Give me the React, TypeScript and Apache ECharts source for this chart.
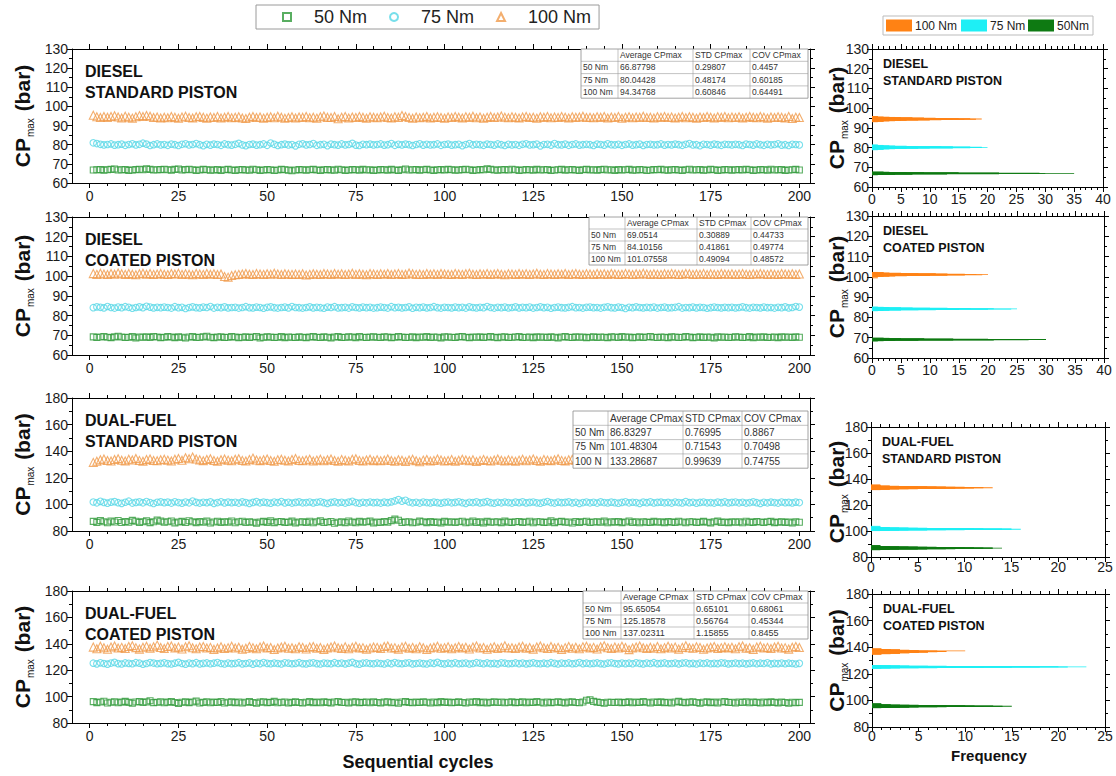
import React, { useEffect, useRef } from 'react';
import * as echarts from 'echarts';

const FONT = 'Arial, "Liberation Sans", Helvetica, sans-serif';

// Sequential cycle numbers (x values of every scatter point)
const cycles: number[] = [];
for (let i = 1; i <= 200; i++) cycles.push(i);

const xTicks = [0, 25, 50, 75, 100, 125, 150, 175, 200];
const loads = ['50 Nm', '75 Nm', '100 Nm'];

// ---------- DIESEL, STANDARD PISTON ----------
const dStd50 = [
  66.8,66.9,67.0,66.7,66.9,67.1,67.3,66.8,66.9,67.0,66.6,66.8,67.0,67.2,66.9,67.4,67.1,66.8,66.9,67.0,
  67.2,66.9,66.7,67.1,67.3,66.8,67.0,67.2,66.9,66.6,66.8,67.1,66.9,66.7,66.8,67.0,66.5,66.9,67.1,66.8,
  66.6,66.9,67.0,66.8,66.7,67.2,66.9,66.6,66.8,67.0,66.9,66.5,66.8,67.1,66.9,66.7,66.4,66.8,67.0,66.9,
  66.7,66.9,67.1,66.8,66.6,66.9,67.0,66.8,66.7,67.2,66.9,66.6,66.8,67.0,66.9,66.7,67.1,66.8,66.9,66.6,
  66.8,67.0,66.9,66.7,67.1,66.8,66.6,66.9,67.3,66.8,66.9,67.0,66.7,66.9,67.1,66.8,66.6,66.9,67.0,66.8,
  67.1,66.9,66.7,66.8,67.0,67.2,66.9,66.6,66.8,67.0,66.9,67.4,67.1,66.8,66.7,66.9,67.0,66.8,67.2,66.9,
  66.6,66.8,67.0,66.9,66.7,67.1,66.8,66.9,67.0,66.5,66.8,66.9,67.1,66.7,66.9,67.0,66.8,66.6,66.9,67.1,
  66.8,66.9,66.7,67.0,67.2,66.8,66.9,66.6,67.0,66.8,66.9,67.1,66.7,66.8,67.0,66.9,66.5,66.8,67.0,66.9,
  67.1,66.8,66.7,66.9,67.0,66.8,66.6,66.9,67.2,66.8,66.9,67.0,66.7,66.8,67.1,66.9,66.6,66.8,67.0,66.9,
  66.7,66.9,67.0,66.8,67.1,66.9,66.6,66.8,67.0,66.9,66.7,67.2,66.8,66.9,67.0,66.6,66.8,66.9,67.1,66.8,
];
const dStd75 = [
  81.0,80.6,80.2,79.9,80.1,80.4,79.8,80.0,80.3,79.7,80.1,80.5,79.9,80.2,80.8,80.3,79.6,80.0,80.4,79.9,
  80.1,79.7,80.3,80.0,79.6,80.2,80.5,79.9,80.1,80.6,80.0,79.5,80.2,79.8,80.3,80.1,79.7,80.4,80.0,79.8,
  80.2,80.7,79.9,79.5,80.1,80.3,79.8,80.0,80.4,79.7,80.9,80.2,79.6,80.0,80.3,79.9,80.1,79.4,80.2,80.5,
  79.9,80.1,80.6,79.7,80.0,80.2,79.5,80.3,80.0,79.8,80.4,79.9,80.1,80.7,79.8,79.6,80.2,80.0,80.3,79.9,
  80.1,80.4,79.8,80.0,80.6,79.7,80.2,79.9,80.3,80.0,79.6,80.1,80.5,79.8,80.2,79.9,80.0,80.4,79.7,80.1,
  80.3,79.8,80.0,80.2,79.5,80.1,80.6,79.9,80.2,80.0,79.7,80.3,80.1,79.8,80.4,80.0,79.6,80.2,79.9,80.1,
  79.7,80.2,80.5,79.9,80.0,80.3,79.4,80.1,80.2,79.8,80.6,80.0,79.9,80.3,79.7,80.1,80.4,79.8,80.0,80.2,
  80.0,79.6,80.3,80.1,79.8,80.5,80.0,79.9,80.2,79.7,80.1,80.4,79.8,80.0,80.3,79.6,80.1,80.2,79.9,80.0,
  80.4,79.8,80.1,79.9,80.3,80.0,79.7,80.2,80.6,79.9,80.0,79.5,80.2,80.1,79.8,80.3,80.0,79.7,80.2,80.1,
  79.9,80.2,80.0,79.6,80.3,80.1,79.8,80.4,80.0,79.7,80.2,79.9,80.1,80.5,79.8,80.0,79.6,80.2,80.1,79.9,
];
const dStd100 = [
  95.4,94.6,94.2,94.8,94.3,94.7,95.1,94.5,94.0,94.9,94.4,93.9,94.6,95.2,94.8,95.3,94.9,94.2,94.5,94.0,
  94.4,94.1,94.7,94.3,93.8,94.5,94.9,94.2,94.0,94.6,94.8,94.3,93.9,94.5,94.2,94.7,94.0,94.4,94.8,94.1,
  94.3,94.6,94.0,93.7,94.4,94.8,94.2,94.5,93.9,94.3,94.6,94.1,94.9,94.4,93.8,94.2,94.6,94.0,94.5,94.3,
  94.7,94.1,94.4,93.9,94.6,95.0,94.3,94.2,94.8,93.6,94.4,94.7,94.0,94.5,94.2,94.8,94.3,93.9,94.6,94.4,
  94.1,94.5,94.9,94.2,94.0,94.6,94.3,95.3,94.7,94.2,93.8,94.5,94.1,94.4,94.8,94.0,94.3,94.6,94.2,93.9,
  94.5,94.2,94.8,94.4,94.0,94.6,94.3,94.9,94.1,94.5,93.8,94.3,94.7,94.2,94.5,95.0,94.4,94.1,94.6,94.3,
  94.0,94.5,94.8,94.2,94.4,93.9,94.6,94.3,94.7,94.1,94.5,94.2,94.8,94.4,94.0,94.6,94.3,94.5,94.9,94.2,
  94.4,94.1,94.6,94.3,94.8,94.0,94.5,94.2,94.7,93.8,94.4,94.6,94.1,94.5,94.3,94.9,94.2,94.4,94.0,94.6,
  94.3,94.7,94.2,94.5,94.0,94.4,94.8,94.1,94.6,94.3,93.9,94.5,94.2,94.7,94.4,94.0,94.6,94.3,94.8,94.1,
  94.5,94.2,94.6,94.0,94.4,94.8,94.3,94.1,94.7,94.4,93.9,94.5,94.2,94.6,94.3,94.0,94.7,93.7,94.4,94.2,
];

// ---------- DIESEL, COATED PISTON ----------
const dCoat50 = [
  69.2,68.9,69.1,69.4,69.0,68.8,69.2,69.5,69.1,68.9,69.0,69.3,68.7,69.1,69.0,69.2,68.9,69.4,69.1,68.8,
  69.0,69.3,69.1,68.8,69.2,69.0,68.6,69.1,69.3,68.9,69.0,69.2,69.5,69.0,68.8,69.1,69.2,68.9,69.0,69.3,
  69.1,68.8,69.0,69.2,68.9,69.1,69.4,68.7,69.0,69.2,69.1,68.9,69.0,69.3,68.8,69.1,69.0,68.9,69.2,69.0,
  68.8,69.1,69.3,69.0,68.9,69.2,69.0,68.7,69.1,69.3,68.9,69.0,69.2,69.1,68.8,69.4,69.0,68.9,69.1,69.2,
  69.0,68.9,69.2,69.1,68.8,69.0,69.3,69.1,68.9,69.0,69.2,68.8,69.1,69.0,69.3,68.9,69.1,69.0,68.7,69.2,
  69.1,69.0,68.9,69.2,69.4,69.0,68.8,69.1,69.0,69.2,68.9,69.1,69.3,69.0,68.8,69.1,69.2,68.9,69.0,69.1,
  69.3,68.9,69.0,69.1,68.8,69.2,69.0,69.1,68.9,69.2,69.0,68.7,69.1,69.3,69.0,68.9,69.2,69.0,69.1,68.8,
  69.0,69.2,68.9,69.1,69.0,68.8,69.2,69.1,68.9,69.3,69.0,69.1,68.8,69.0,69.2,68.9,69.1,69.4,69.0,68.9,
  69.1,69.0,68.8,69.2,69.1,68.9,69.0,69.3,69.1,68.8,69.0,69.2,68.9,69.1,69.0,68.7,69.2,69.0,69.1,68.9,
  69.0,69.2,69.1,68.9,69.0,69.3,68.8,69.1,69.0,69.2,68.9,69.0,69.1,68.8,69.2,69.0,69.1,68.9,69.2,69.0,
];
const dCoat75 = [
  84.0,84.4,84.2,83.9,84.6,84.1,83.8,84.3,84.0,84.5,84.2,83.7,84.1,84.4,84.0,84.7,84.3,83.9,84.2,84.0,
  84.3,84.1,83.8,84.5,84.0,84.2,83.6,84.1,84.4,84.0,83.9,84.3,84.1,84.6,83.8,84.2,84.0,84.4,83.9,84.1,
  84.2,83.8,84.1,84.5,84.0,83.9,84.3,84.1,83.7,84.2,84.4,84.0,83.8,84.1,84.3,83.9,84.6,84.1,84.0,83.8,
  84.1,84.4,83.9,84.2,84.0,83.7,84.3,84.1,84.5,83.9,84.0,84.2,83.8,84.4,84.1,83.9,84.3,84.0,84.2,83.8,
  84.0,84.3,84.1,83.8,84.5,84.0,84.2,83.9,84.1,84.4,83.7,84.2,84.0,84.3,83.9,84.1,84.5,84.0,83.8,84.2,
  84.1,83.9,84.3,84.0,84.2,83.8,84.4,84.1,83.9,84.2,84.0,84.6,84.1,83.8,84.2,84.0,84.3,83.9,84.1,84.4,
  83.9,84.2,84.0,84.3,83.8,84.1,84.4,84.0,84.2,83.7,84.1,84.3,84.0,83.9,84.2,84.5,84.0,84.1,83.8,84.2,
  84.3,84.0,84.1,83.8,84.2,84.4,84.0,83.9,84.3,84.1,83.6,84.2,84.0,84.4,84.1,83.9,84.2,84.0,84.3,83.8,
  84.1,84.3,83.9,84.0,84.2,84.5,83.8,84.1,84.0,84.3,83.9,84.2,84.1,83.7,84.0,84.3,84.1,83.9,84.2,84.0,
  84.2,83.9,84.1,84.4,84.0,83.8,84.2,84.1,83.9,84.3,84.0,84.1,83.8,84.2,84.0,84.4,83.9,84.1,84.6,84.3,
];
const dCoat100 = [
  101.3,100.9,101.5,101.1,100.8,101.4,101.0,101.6,101.2,100.9,101.3,101.0,100.7,101.2,101.5,101.0,101.3,100.9,101.1,101.4,
  101.0,100.8,101.3,101.1,101.5,100.9,101.2,101.0,100.7,101.3,101.1,100.9,101.4,101.0,101.2,100.8,101.1,99.8,99.5,100.3,
  100.7,100.9,101.1,101.4,101.0,100.8,101.3,101.1,100.9,101.2,101.0,101.5,101.1,100.8,101.2,101.0,100.9,101.1,100.9,101.2,
  100.6,100.9,101.2,101.0,100.8,101.3,101.1,100.9,101.4,101.0,101.2,100.8,101.1,101.5,100.9,101.2,101.0,100.7,101.3,101.1,
  100.9,101.2,101.0,101.4,100.8,101.1,101.3,100.9,101.0,101.6,101.2,100.9,101.1,100.8,101.3,101.0,101.2,100.9,101.4,101.1,
  101.0,100.8,101.3,101.1,100.9,101.2,101.5,101.0,100.8,101.2,101.0,101.3,100.9,101.1,101.4,101.0,100.7,101.2,101.1,100.9,
  101.3,101.0,101.2,100.9,101.1,101.5,101.0,100.8,101.3,101.1,100.9,101.2,101.0,101.4,100.8,101.1,101.3,101.0,100.9,101.2,
  101.1,100.9,101.3,101.0,101.2,100.8,101.4,101.1,100.9,101.0,101.3,101.1,100.8,101.2,101.0,101.5,101.1,100.9,101.2,101.0,
  100.9,101.2,101.0,101.3,101.1,100.8,101.0,101.4,101.2,100.9,101.1,101.0,101.3,100.8,101.2,101.0,100.9,101.3,101.1,101.0,
  101.2,100.9,101.1,101.3,101.0,100.8,101.2,101.0,101.4,101.1,100.9,101.2,101.0,100.8,101.3,101.1,101.0,101.2,100.9,101.1,
];

// ---------- DUAL-FUEL, STANDARD PISTON ----------
const dfStd50 = [
  87.2,86.5,87.8,86.9,86.2,87.4,86.8,87.9,86.4,87.1,86.7,88.0,87.3,86.5,86.9,87.6,86.3,87.0,88.2,87.4,
  86.6,86.9,87.5,86.1,86.8,87.2,86.4,87.7,86.9,86.3,87.1,86.6,87.4,86.0,86.8,87.3,86.5,87.0,86.7,87.5,
  86.2,86.9,87.3,86.4,87.0,86.6,85.9,86.8,87.2,86.5,87.6,86.3,86.9,87.1,86.4,86.7,87.4,86.1,86.8,87.0,
  86.5,87.3,86.2,86.9,87.6,86.4,86.8,87.1,85.8,86.6,87.0,86.3,87.5,86.7,86.2,87.2,86.6,86.9,87.4,86.1,
  86.8,86.4,87.1,86.7,87.8,88.9,88.1,86.5,86.8,87.0,86.2,86.6,87.4,86.9,86.3,87.1,86.5,86.8,86.1,87.2,
  86.6,87.0,86.4,86.9,87.3,86.2,86.7,87.5,86.5,86.9,86.1,87.2,86.6,86.8,87.0,86.3,87.4,86.7,86.4,86.9,
  87.1,86.5,86.8,87.3,86.2,86.9,87.0,86.4,86.7,87.6,86.3,86.9,87.2,86.6,86.8,86.0,87.1,86.5,86.9,87.3,
  86.4,86.8,87.0,86.6,87.4,86.2,86.9,86.7,87.1,86.3,86.8,87.5,86.5,86.9,86.2,87.0,86.7,86.4,87.2,86.6,
  86.9,86.3,87.1,86.7,86.5,87.3,86.8,86.2,86.9,87.0,86.4,86.7,87.2,86.6,86.1,86.9,87.4,86.5,86.8,86.3,
  87.0,86.6,86.9,86.2,87.3,86.7,86.5,87.1,86.8,86.4,86.9,87.2,86.3,86.7,87.0,86.5,86.8,86.1,86.9,86.6,
];
const dfStd75 = [
  101.8,101.2,102.3,101.5,100.9,101.7,102.1,101.3,100.8,101.6,102.4,101.0,101.5,101.9,101.2,102.2,101.4,100.7,101.6,101.9,
  101.3,101.7,101.0,102.0,101.4,100.9,101.8,101.2,102.5,101.5,101.0,101.6,101.3,101.9,100.8,101.4,102.0,101.1,101.7,101.3,
  101.6,101.0,101.9,101.4,100.8,101.5,102.1,101.2,101.7,101.3,100.9,101.8,101.4,102.2,101.1,101.6,101.0,101.5,101.9,101.2,
  101.4,101.8,101.1,101.6,102.0,101.3,100.8,101.5,101.9,101.2,101.6,101.0,101.7,102.3,101.4,100.9,101.6,101.2,101.8,101.3,
  101.5,101.0,101.7,101.3,101.9,102.6,103.6,102.4,103.1,101.8,101.2,101.6,101.0,101.8,101.4,101.1,101.7,101.3,100.9,101.5,
  101.8,101.2,101.5,102.0,101.3,100.8,101.6,101.4,101.9,101.1,101.5,102.1,101.3,100.9,101.6,101.2,101.8,101.4,101.0,101.7,
  101.3,101.9,101.1,101.5,101.8,101.2,100.9,101.6,102.2,101.4,101.0,101.7,101.3,101.5,101.9,101.1,101.6,100.8,101.4,101.8,
  101.2,101.6,101.0,101.9,101.4,101.1,101.7,101.3,100.9,101.5,102.0,101.2,101.6,101.4,100.8,101.7,101.3,101.9,101.1,101.5,
  101.7,101.2,101.5,101.0,101.8,101.4,101.1,102.1,101.3,101.6,100.9,101.5,101.8,101.2,101.4,101.0,101.7,101.3,101.9,101.1,
  101.5,101.8,101.2,101.6,101.0,101.4,101.9,101.3,100.8,101.6,101.2,101.7,101.4,101.0,101.8,101.3,101.5,101.1,101.7,101.4,
];
const dfStd100 = [
  131.6,132.4,133.5,134.1,133.0,132.6,133.8,134.4,133.2,132.7,133.9,133.4,134.6,133.1,132.5,133.7,134.2,133.0,132.8,133.6,
  134.0,133.3,132.6,133.9,134.5,133.2,135.1,134.3,135.6,134.1,133.5,132.9,133.8,134.4,133.0,132.5,133.6,134.2,133.3,132.8,
  133.9,134.3,133.1,132.6,133.7,134.8,133.4,132.9,133.5,134.1,133.0,132.4,133.6,134.0,133.2,132.7,133.8,134.5,133.1,132.8,
  133.4,134.0,132.6,133.3,133.9,132.8,133.5,134.2,133.0,132.5,133.7,133.2,132.7,133.9,134.3,133.1,132.6,133.4,134.0,132.9,
  133.5,132.8,133.3,134.1,133.0,132.4,133.6,133.2,132.3,133.4,134.0,132.9,132.1,133.3,133.8,132.7,133.1,134.2,133.4,132.6,
  133.0,133.7,132.5,133.2,134.0,133.4,132.8,133.5,132.2,133.1,133.8,133.0,132.6,133.4,134.1,133.2,132.7,133.6,133.1,132.4,
  133.3,133.9,132.8,133.4,134.2,133.0,132.5,133.7,133.3,132.9,133.6,134.3,133.1,132.7,133.5,134.0,133.2,132.6,133.8,133.4,
  132.9,133.5,134.1,133.0,132.6,133.8,133.3,132.8,134.0,133.4,132.7,133.6,133.1,134.2,133.5,132.9,133.3,133.9,132.6,133.4,
  133.7,133.1,132.7,133.5,134.0,133.2,132.8,133.6,133.0,134.1,133.4,132.6,133.3,133.9,133.1,132.7,133.5,134.2,133.0,133.4,
  132.8,133.6,133.2,134.0,133.3,132.7,133.8,133.1,132.9,133.5,134.1,133.2,132.6,133.4,133.9,133.0,132.8,133.6,133.3,132.9,
];

// ---------- DUAL-FUEL, COATED PISTON ----------
const dfCoat50 = [
  96.2,95.4,95.9,96.5,95.1,95.7,96.1,95.3,95.8,96.4,95.6,95.0,95.9,96.3,95.5,96.0,96.8,95.4,95.7,96.1,
  95.3,95.8,96.2,95.5,94.9,95.7,96.0,95.4,95.9,96.6,95.2,95.6,96.1,95.3,95.8,95.5,96.3,95.1,95.7,96.0,
  95.4,95.9,95.2,95.7,96.2,95.5,95.0,95.8,96.1,95.4,95.6,96.4,95.3,95.7,95.9,95.2,95.6,96.0,95.5,95.1,
  95.7,96.2,95.4,95.8,95.3,96.0,95.6,95.1,95.9,96.3,95.5,95.7,95.2,95.8,96.1,95.4,95.6,95.9,95.3,96.0,
  95.5,95.2,95.8,96.1,95.4,95.7,95.0,95.9,96.2,95.6,95.3,95.8,95.5,96.0,95.7,95.2,95.9,95.4,96.3,95.6,
  95.8,95.3,95.6,96.0,95.5,95.1,95.9,95.7,96.2,95.4,95.8,95.2,95.6,96.1,95.5,95.9,95.3,95.7,96.0,95.4,
  95.6,96.0,95.3,95.8,95.5,96.2,95.7,95.1,95.9,95.4,95.7,96.1,95.6,95.2,95.8,96.0,95.5,95.3,95.9,97.2,
  97.6,96.4,95.8,95.5,95.0,95.7,95.7,95.5,95.9,95.4,95.6,96.0,95.3,95.8,95.5,96.2,95.7,95.1,95.9,95.6,
  96.0,95.4,95.7,95.2,95.9,96.4,95.6,95.3,95.8,96.1,95.5,95.0,95.7,96.0,95.4,95.8,95.2,95.9,96.3,95.5,
  95.7,95.2,95.9,95.5,96.1,95.3,95.8,95.6,95.1,95.9,95.4,96.0,95.6,95.2,95.8,95.5,95.0,95.7,95.3,95.6,
];
const dfCoat75 = [
  125.3,124.8,125.6,125.1,124.6,125.4,125.9,125.0,124.7,125.5,125.2,124.9,125.7,125.3,124.5,125.1,125.8,125.4,124.9,125.2,
  125.6,125.0,124.7,125.3,125.9,125.1,124.6,125.4,125.0,125.7,124.8,125.2,125.5,124.9,125.3,125.8,125.1,124.7,125.4,125.0,
  125.2,125.7,124.8,125.1,125.5,124.6,125.3,125.0,125.8,125.2,124.9,125.4,125.1,124.7,125.6,125.3,124.9,125.2,125.7,125.0,
  124.8,125.3,125.6,125.0,124.7,125.4,125.2,124.9,125.7,125.1,125.4,124.8,125.3,125.9,125.0,124.6,125.3,125.5,125.1,124.9,
  125.4,125.1,124.7,125.5,125.0,125.8,125.2,124.9,125.3,125.6,124.8,125.1,125.4,125.0,124.7,125.5,125.2,125.9,125.1,124.8,
  125.3,125.0,125.6,124.9,125.2,125.4,124.7,125.1,125.7,125.3,124.9,125.5,125.0,125.2,124.8,125.6,125.3,124.9,125.1,125.5,
  125.0,125.4,124.8,125.2,125.6,125.1,124.9,125.3,125.0,125.7,125.2,124.7,125.4,125.1,125.5,124.9,125.2,125.8,125.0,125.3,
  124.9,125.2,125.5,125.0,124.7,125.3,125.6,125.1,124.8,125.4,125.0,125.3,124.9,125.6,125.2,124.8,125.4,125.1,125.7,125.0,
  125.2,125.5,124.9,125.1,125.4,124.8,125.3,125.6,125.0,125.2,124.7,125.4,125.1,125.5,124.9,125.2,125.0,125.6,125.3,124.8,
  125.1,125.4,125.0,125.3,124.8,125.2,125.5,124.9,125.3,125.1,125.6,124.8,125.2,125.0,125.4,124.9,125.3,125.1,124.7,125.2,
];
const dfCoat100 = [
  137.5,136.2,138.1,137.0,135.9,137.6,138.4,136.8,137.3,136.4,137.9,138.6,137.1,136.0,137.4,138.2,136.7,137.8,139.0,137.2,
  136.5,137.9,138.3,136.9,137.5,136.1,137.8,138.5,137.0,136.3,137.6,138.0,136.8,137.3,135.8,136.9,137.7,136.4,137.1,138.2,
  136.8,137.4,135.9,136.6,137.9,137.1,136.3,137.6,138.4,136.9,137.2,135.7,136.8,137.5,138.1,136.6,137.0,136.2,137.8,137.3,
  136.1,137.5,138.0,136.7,137.2,135.8,136.9,137.6,138.3,137.0,136.4,137.7,136.2,137.4,138.2,136.9,137.1,135.9,136.8,137.6,
  137.3,136.5,137.9,138.4,136.8,137.1,136.0,137.5,138.1,136.7,137.3,136.2,137.8,137.0,135.7,136.9,137.4,138.2,136.6,137.1,
  137.7,136.3,137.0,138.0,136.9,137.4,136.1,137.6,138.3,136.8,137.2,135.9,137.1,137.8,136.5,137.3,138.5,136.9,137.0,136.4,
  137.5,138.1,136.7,137.2,136.0,137.6,138.4,137.0,136.5,137.9,136.8,137.3,135.8,137.1,138.0,136.6,137.4,136.2,137.7,138.2,
  136.9,137.3,136.1,137.8,138.5,137.0,136.4,137.5,136.8,138.1,137.2,135.6,136.9,137.6,138.3,137.0,136.5,137.4,136.7,137.9,
  136.3,137.1,138.2,136.8,137.5,136.0,137.3,138.6,137.0,136.6,137.8,137.2,135.9,136.8,137.4,138.0,136.5,137.1,137.7,136.9,
  137.4,136.2,137.8,138.3,136.7,137.0,135.8,137.5,138.1,136.9,137.3,136.4,137.6,138.2,136.8,137.1,136.0,137.4,137.9,137.2,
];

// ---------- Histograms: counts per 0.1 bar bin, starting at the given bin centre ----------
const BIN = 0.1;
const hDStd50Start = 66.2;
const hDStd50 = [1,2,4,7,13,22,30,35,29,22,15,9,6,3,2];
const hDStd75Start = 78.9;
const hDStd75 = [1,1,2,2,3,4,6,8,10,14,17,19,20,19,17,14,12,8,6,4,3,2,2,1,1];
const hDStd100Start = 93.1;
const hDStd100 = [1,1,2,2,3,4,5,6,8,10,12,14,16,18,19,17,15,13,11,9,7,5,4,3,2,1,1,1];

const hDCoat50Start = 68.4;
const hDCoat50 = [1,2,4,8,14,21,27,30,26,20,14,9,5,3,2];
const hDCoat75Start = 83.3;
const hDCoat75 = [1,2,3,5,8,11,15,20,24,25,21,17,13,10,7,5,3,2,1];
const hDCoat100Start = 99.5;
const hDCoat100 = [1,0,0,0,0,1,1,2,3,4,6,8,10,13,16,19,20,18,16,13,11,8,6,5,3,2,2,1];

const hDfStd50Start = 85.6;
const hDfStd50 = [1,1,2,2,3,5,6,8,9,10,12,13,14,13,12,11,10,9,8,7,6,5,4,3,2,2,1,1,0,1,0,0,0,1];
const hDfStd75Start = 100.3;
const hDfStd75 = [1,1,2,3,4,6,8,10,12,14,15,16,15,14,12,11,9,8,6,5,4,3,2,2,1,1,1,0,1,0,0,0,0,1];
const hDfStd100Start = 131.8;
const hDfStd100 = [1,1,1,2,2,3,4,5,6,7,8,9,10,11,12,13,12,11,10,9,8,7,6,5,4,3,3,2,2,1,1,1,1,0,0,0,0,1];

const hDfCoat50Start = 94.5;
const hDfCoat50 = [1,1,2,3,4,5,7,8,10,12,14,15,14,13,11,10,8,7,5,4,3,2,2,1,1,1,0,0,0,0,0,1];
const hDfCoat75Start = 124.2;
const hDfCoat75 = [1,2,3,5,7,9,12,15,18,21,23,20,17,14,11,8,6,4,3,2,1];
const hDfCoat100Start = 134.8;
const hDfCoat100 = [1,1,1,2,2,2,3,3,3,4,4,4,5,5,5,6,6,6,7,7,8,6,5,7,10,5,5,4,4,4,3,3,3,2,2,2,1,1,1,1];

// ---------- Summary tables ----------
const tableHead = ['', 'Average CPmax', 'STD CPmax', 'COV CPmax'];
const tDStd = [
  ['50 Nm', '66.87798', '0.29807', '0.4457'],
  ['75 Nm', '80.04428', '0.48174', '0.60185'],
  ['100 Nm', '94.34768', '0.60846', '0.64491'],
];
const tDCoat = [
  ['50 Nm', '69.0514', '0.30889', '0.44733'],
  ['75 Nm', '84.10156', '0.41861', '0.49774'],
  ['100 Nm', '101.07558', '0.49094', '0.48572'],
];
const tDfStd = [
  ['50 Nm', '86.83297', '0.76995', '0.8867'],
  ['75 Nm', '101.48304', '0.71543', '0.70498'],
  ['100 N', '133.28687', '0.99639', '0.74755'],
];
const tDfCoat = [
  ['50 Nm', '95.65054', '0.65101', '0.68061'],
  ['75 Nm', '125.18578', '0.56764', '0.45344'],
  ['100 Nm', '137.02311', '1.15855', '0.8455'],
];

// ---------- Styling and layout ----------
const SC = ['#2f9a3a', '#56d7e6', '#f09a4a']; // scatter outlines 50 / 75 / 100 Nm
const HC = ['#0e7a12', '#1eeff5', '#ff8214']; // histogram fills 50 / 75 / 100 Nm

const panels = [
  {
    title: ['DIESEL', 'STANDARD PISTON'], s: [dStd50, dStd75, dStd100], table: tDStd,
    y: [60, 130, 10], fMax: 40,
    h: [[hDStd50Start, hDStd50], [hDStd75Start, hDStd75], [hDStd100Start, hDStd100]],
  },
  {
    title: ['DIESEL', 'COATED PISTON'], s: [dCoat50, dCoat75, dCoat100], table: tDCoat,
    y: [60, 130, 10], fMax: 40,
    h: [[hDCoat50Start, hDCoat50], [hDCoat75Start, hDCoat75], [hDCoat100Start, hDCoat100]],
  },
  {
    title: ['DUAL-FUEL', 'STANDARD PISTON'], s: [dfStd50, dfStd75, dfStd100], table: tDfStd,
    y: [80, 180, 20], fMax: 25,
    h: [[hDfStd50Start, hDfStd50], [hDfStd75Start, hDfStd75], [hDfStd100Start, hDfStd100]],
  },
  {
    title: ['DUAL-FUEL', 'COATED PISTON'], s: [dfCoat50, dfCoat75, dfCoat100], table: tDfCoat,
    y: [80, 180, 20], fMax: 25,
    h: [[hDfCoat50Start, hDfCoat50], [hDfCoat75Start, hDfCoat75], [hDfCoat100Start, hDfCoat100]],
  },
];

const leftBoxes = [
  { left: 72, top: 49, width: 738, height: 134 },
  { left: 72, top: 217, width: 738, height: 138 },
  { left: 72, top: 398, width: 738, height: 133 },
  { left: 72, top: 591, width: 738, height: 132 },
];
const rightBoxes = [
  { left: 872, top: 49, width: 231, height: 138 },
  { left: 872, top: 216, width: 232, height: 142 },
  { left: 871, top: 427, width: 234, height: 130 },
  { left: 872, top: 594, width: 233, height: 133 },
];
const rightLabelMargin = [5, 5, 3, 2];
const tableBoxes = [
  { x: 581, y: 49, cols: [37, 75, 57, 58], rowH: 12.3, font: 8.5 },
  { x: 589, y: 217, cols: [36, 72, 54, 57], rowH: 12, font: 8.5 },
  { x: 573, y: 411, cols: [35, 75, 59, 66], rowH: 14.3, font: 10 },
  { x: 583, y: 591, cols: [38, 73, 55, 59], rowH: 12, font: 9 },
];

const black = { color: '#000', width: 1 };

function valueAxis(gridIndex: number, position: string, extra: any) {
  return {
    type: 'value',
    gridIndex,
    position,
    axisLine: { show: true, onZero: false, lineStyle: black },
    splitLine: { show: false },
    ...extra,
  };
}

function buildTable(box: any, rows: string[][]) {
  const all = [tableHead, ...rows];
  const width = box.cols.reduce((a: number, b: number) => a + b, 0);
  const els: any[] = [
    {
      type: 'rect', shape: { x: box.x, y: box.y, width, height: box.rowH * 4 },
      style: { fill: '#fff', stroke: '#8a8a8a', lineWidth: 0.8 }, z: 10,
    },
  ];
  for (let r = 1; r < 4; r++) {
    els.push({
      type: 'line', shape: { x1: box.x, y1: box.y + r * box.rowH, x2: box.x + width, y2: box.y + r * box.rowH },
      style: { stroke: '#9a9a9a', lineWidth: 0.6 }, z: 11,
    });
  }
  let cx = box.x;
  box.cols.forEach((w: number, c: number) => {
    if (c > 0) {
      els.push({
        type: 'line', shape: { x1: cx, y1: box.y, x2: cx, y2: box.y + 4 * box.rowH },
        style: { stroke: '#9a9a9a', lineWidth: 0.6 }, z: 11,
      });
    }
    all.forEach((row, r) => {
      els.push({
        type: 'text', x: cx + 2, y: box.y + (r + 0.5) * box.rowH, z: 12,
        style: { text: row[c], fill: '#333', font: `${box.font}px ${FONT}`, verticalAlign: 'middle', align: 'left' },
      });
    });
    cx += w;
  });
  return els;
}

function yTitle(x: number, y: number) {
  return {
    type: 'text', x, y, rotation: Math.PI / 2, z: 5,
    style: {
      text: '{a|CP}{b|max}{a| (bar)}',
      align: 'center', verticalAlign: 'middle', fill: '#111',
      rich: {
        a: { fontSize: 21, fontWeight: 'bold', fontFamily: FONT, lineHeight: 26, fill: '#111' },
        b: { fontSize: 10, fontFamily: FONT, lineHeight: 26, verticalAlign: 'bottom', fill: '#111', padding: [0, 1, 0, 1] },
      },
    },
  };
}

function buildOption() {
  const grid: any[] = [];
  const xAxis: any[] = [];
  const yAxis: any[] = [];
  const series: any[] = [];
  const graphic: any[] = [];
  const tickLabel = { fontSize: 14, color: '#1a1a1a', fontFamily: FONT };

  panels.forEach((p, i) => {
    // ---- scatter panel on the left ----
    const lb = leftBoxes[i];
    const g = grid.length;
    grid.push({ ...lb });
    const xi = xAxis.length;
    ['bottom', 'top'].forEach((pos) => {
      xAxis.push(valueAxis(g, pos, {
        min: -5, max: 203,
        axisTick: { show: true, length: 5, customValues: xTicks, lineStyle: black },
        minorTick: { show: true, splitNumber: 10, length: 3, lineStyle: black },
        axisLabel: { show: pos === 'bottom', customValues: xTicks, margin: 6, ...tickLabel },
      }));
    });
    const yi = yAxis.length;
    ['left', 'right'].forEach((pos) => {
      yAxis.push(valueAxis(g, pos, {
        min: p.y[0], max: p.y[1], interval: p.y[2],
        axisTick: { show: true, length: 5, lineStyle: black },
        minorTick: { show: true, splitNumber: 2, length: 3, lineStyle: black },
        axisLabel: { show: pos === 'left', margin: 4, ...tickLabel },
      }));
    });
    const symbols = ['rect', 'circle', 'triangle'];
    const sizes = [6, 6.5, 8];
    p.s.forEach((vals, k) => {
      series.push({
        type: 'scatter', name: loads[k], xAxisIndex: xi, yAxisIndex: yi,
        symbol: symbols[k], symbolSize: sizes[k],
        itemStyle: { color: 'rgba(255,255,255,0)', borderColor: SC[k], borderWidth: 1.1 },
        data: vals.map((v, j) => [cycles[j], v]),
        z: 2 + k,
      });
    });
    graphic.push({
      type: 'text', x: lb.left + 13, y: lb.top + 12, z: 5,
      style: { text: p.title.join('\n'), font: `bold 16px ${FONT}`, lineHeight: 21, fill: '#111' },
    });
    graphic.push(yTitle(22, lb.top + lb.height / 2));
    graphic.push(...buildTable(tableBoxes[i], p.table));

    // ---- histogram panel on the right ----
    const rb = rightBoxes[i];
    const rg = grid.length;
    grid.push({ ...rb });
    const rxi = xAxis.length;
    ['bottom', 'top'].forEach((pos) => {
      xAxis.push(valueAxis(rg, pos, {
        min: 0, max: p.fMax, interval: 5,
        axisTick: { show: true, length: 5, lineStyle: black },
        minorTick: { show: true, splitNumber: 5, length: 3, lineStyle: black },
        axisLabel: { show: pos === 'bottom', margin: rightLabelMargin[i], ...tickLabel },
      }));
    });
    const ryi = yAxis.length;
    ['left', 'right'].forEach((pos) => {
      yAxis.push(valueAxis(rg, pos, {
        min: p.y[0], max: p.y[1], interval: p.y[2],
        axisTick: { show: true, length: 5, lineStyle: black },
        minorTick: { show: true, splitNumber: 2, length: 3, lineStyle: black },
        axisLabel: { show: pos === 'left', margin: 3, ...tickLabel },
      }));
    });
    [2, 1, 0].forEach((k) => {
      const [start, counts] = p.h[k] as [number, number[]];
      const color = HC[k];
      series.push({
        type: 'custom', name: loads[k] + ' frequency', xAxisIndex: rxi, yAxisIndex: ryi, clip: true,
        data: counts.map((c, j) => [c, Math.round((start + j * BIN) * 10) / 10]),
        renderItem: (_params: any, api: any) => {
          const count = api.value(0);
          const centre = api.value(1);
          if (!count) return null;
          const a = api.coord([0, centre + BIN / 2]);
          const b = api.coord([count, centre - BIN / 2]);
          const h = Math.max(b[1] - a[1], 0.9);
          return {
            type: 'rect',
            shape: { x: a[0], y: (a[1] + b[1]) / 2 - h / 2, width: b[0] - a[0], height: h },
            style: { fill: color },
          };
        },
      });
    });
    graphic.push({
      type: 'text', x: rb.left + 11, y: rb.top + 6, z: 5,
      style: { text: p.title.join('\n'), font: `bold 12.5px ${FONT}`, lineHeight: 17.5, fill: '#111' },
    });
    graphic.push(yTitle(836, rb.top + rb.height / 2));
  });

  // axis captions
  graphic.push({
    type: 'text', x: 418, y: 762, style: { text: 'Sequential cycles', font: `bold 18px ${FONT}`, fill: '#111', align: 'center', verticalAlign: 'middle' },
  });
  graphic.push({
    type: 'text', x: 989, y: 755, style: { text: 'Frequency', font: `bold 15px ${FONT}`, fill: '#111', align: 'center', verticalAlign: 'middle' },
  });

  // histogram key
  const keyItems = [
    { label: '100 Nm', color: HC[2], x: 886, tx: 915 },
    { label: '75 Nm', color: HC[1], x: 961, tx: 990 },
    { label: '50Nm', color: HC[0], x: 1028, tx: 1057 },
  ];
  graphic.push({
    type: 'rect', shape: { x: 883, y: 16, width: 210, height: 19 }, style: { fill: '#fff', stroke: '#bbb', lineWidth: 1 },
  });
  keyItems.forEach((it) => {
    graphic.push({ type: 'rect', shape: { x: it.x, y: 19.5, width: 26, height: 12 }, style: { fill: it.color } });
    graphic.push({
      type: 'text', x: it.tx, y: 25.5,
      style: { text: it.label, font: `12px ${FONT}`, fill: '#222', verticalAlign: 'middle' },
    });
  });

  return {
    animation: false,
    backgroundColor: '#fff',
    textStyle: { fontFamily: FONT },
    legend: {
      left: 256, top: 5,
      data: loads,
      borderColor: '#9a9a9a', borderWidth: 1,
      padding: [3, 8, 3, 26],
      itemGap: 22, itemWidth: 8, itemHeight: 8,
      textStyle: { fontSize: 18, color: '#222', fontFamily: FONT, padding: [0, 0, 0, 18] },
    },
    grid,
    xAxis,
    yAxis,
    series,
    graphic,
  };
}

export default function App() {
  const ref = useRef<HTMLDivElement>(null);
  useEffect(() => {
    if (!ref.current) return;
    const chart = echarts.init(ref.current, null, { renderer: 'svg' });
    chart.setOption(buildOption() as any);
    return () => chart.dispose();
  }, []);
  return <div ref={ref} style={{ width: 1116, height: 776, position: 'absolute', left: 0, top: 0 }} />;
}
